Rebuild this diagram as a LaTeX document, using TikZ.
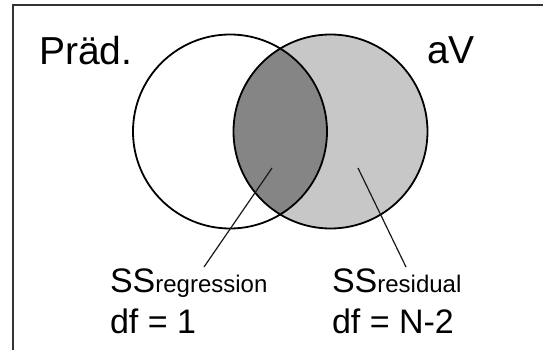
\documentclass[tikz,border=0pt]{standalone}
\usepackage{fontspec}
\setmainfont{Liberation Sans}
\begin{document}
\begin{tikzpicture}[x=1pt,y=-1pt,
  lbl/.style={inner sep=0pt,outer sep=0pt,anchor=base west},
  big/.style={lbl,font=\fontsize{39}{39}\selectfont},
  mid/.style={lbl,font=\fontsize{34}{34}\selectfont},
  circ/.style={line width=1.8pt,draw=black},
  conn/.style={line width=1.2pt,draw=black!90}]
\useasboundingbox (0,0) rectangle (543,350);
\fill[white] (0,0) rectangle (543,350);
% frame
\draw[line width=2pt,draw=black!80] (13,360) -- (13,5.5) -- (560,5.5);
% circles
\coordinate (cl) at (230,131.5);
\coordinate (cr) at (330.5,131.5);
\fill[fill={rgb,255:red,198;green,199;blue,198}] (cr) circle (97);
\begin{scope}
\clip (cl) circle (97);
\fill[fill={rgb,255:red,133;green,133;blue,133}] (cr) circle (97);
\end{scope}
\draw[circ] (cl) circle (97);
\draw[circ] (cr) circle (97);
% labels
\node[big] (pred) at (39,65) {Präd.};
\node[big] (av) at (427,64) {aV};
\node[mid] (ssreg) at (110,292.5) {SS{\fontsize{24}{24}\selectfont regression}};
\node[mid] (dfreg) at (110,333) {df = 1};
\node[mid] (ssres) at (332,292.5) {SS{\fontsize{24}{24}\selectfont residual}};
\node[mid] (dfres) at (332,333) {df = N-2};
% connectors
\coordinate (pregA) at (272,168);
\coordinate (pregB) at (204,267);
\coordinate (presA) at (358,168);
\coordinate (presB) at (406,267);
\draw[conn] (pregA) -- (pregB);
\draw[conn] (presA) -- (presB);
\end{tikzpicture}
\end{document}
